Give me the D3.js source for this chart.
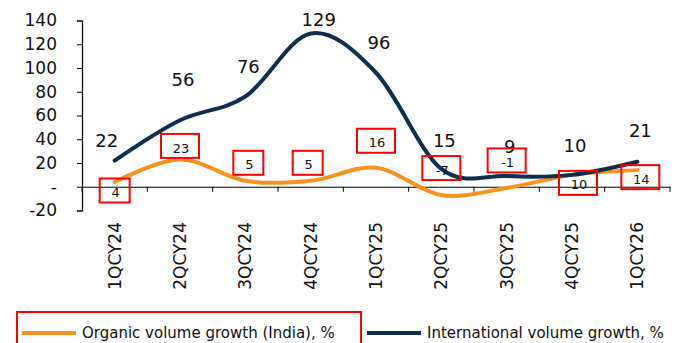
<!DOCTYPE html>
<html>
<head>
<meta charset="utf-8">
<script src="https://cdn.jsdelivr.net/npm/d3@7"></script>
<style>
body { margin: 0; background: #fff; }
text { font-family: "DejaVu Sans", Verdana, sans-serif; }
</style>
</head>
<body>
<svg id="chart"></svg>
<script>
var quarters = ['1QCY24','2QCY24','3QCY24','4QCY24','1QCY25','2QCY25','3QCY25','4QCY25','1QCY26'];
var organic = [4, 23, 5, 5, 16, -7, -1, 10, 14];
var international = [22, 56, 76, 129, 96, 15, 9, 10, 21];
var yTicks = [-20, 0, 20, 40, 60, 80, 100, 120, 140];
var seriesNames = ['Organic volume growth (India), %', 'International volume growth, %'];

// label nudges (px), as placed in the source chart
var intlDx = [-8, 3, 3, 8, 3, 3, 3, 3, 3];
var intlDy = [-20, -41, -30, -14, -30, -28, -29, -29, -31];
var orgDx = [0, 0, 3, -3, 0, 0, 0, 6, 3];
var orgDy = [8.5, -13.5, -18, -18, -27, -27, -27.5, 8, 7];

var orange = '#f7931e';
var navy = '#0f2d4c';

var svg = d3.select('#chart')
    .attr('width', 680)
    .attr('height', 343);

var x = d3.scaleBand()
    .domain(quarters)
    .range([82, 670]);

var y = d3.scaleLinear()
    .domain([-20, 140])
    .range([210.5, 20.5]);

function cx(i){ return x(quarters[i]) + x.bandwidth() / 2; }

// y axis
var yAxis = svg.append('g')
    .attr('transform', 'translate(82,0)')
    .call(d3.axisLeft(y).tickValues(yTicks).tickSize(5).tickPadding(20)
        .tickFormat(function(d){ return d === 0 ? '-' : d; }));
yAxis.selectAll('path').attr('stroke', '#000').attr('stroke-width', 1.2);
yAxis.selectAll('line').attr('stroke', '#000');
yAxis.selectAll('text')
    .attr('font-size', 17)
    .attr('fill', '#111')
    .attr('x', -25);

// x axis along zero
var xAxis = svg.append('g')
    .attr('transform', 'translate(0,' + y(0) + ')')
    .call(d3.axisBottom(x).tickSize(0).tickFormat(''));
xAxis.select('path').attr('stroke', '#000').attr('stroke-width', 1.2);

svg.append('g')
    .selectAll('line')
    .data(d3.range(quarters.length + 1))
    .enter().append('line')
    .attr('x1', function(i){ return 82 + i * x.bandwidth(); })
    .attr('x2', function(i){ return 82 + i * x.bandwidth(); })
    .attr('y1', y(0))
    .attr('y2', y(0) + 5)
    .attr('stroke', '#000');

// category labels (rotated)
svg.append('g')
    .selectAll('text')
    .data(quarters)
    .enter().append('text')
    .attr('transform', function(d, i){ return 'translate(' + (cx(i) + 6) + ',222) rotate(-90)'; })
    .attr('text-anchor', 'end')
    .attr('font-size', 17)
    .attr('fill', '#111')
    .text(function(d){ return d; });

var line = d3.line()
    .x(function(d, i){ return cx(i); })
    .y(function(d){ return y(d); })
    .curve(d3.curveCardinal.tension(0));

svg.append('path')
    .datum(organic)
    .attr('d', line)
    .attr('fill', 'none')
    .attr('stroke', orange)
    .attr('stroke-width', 4)
    .attr('stroke-linecap', 'round');

svg.append('path')
    .datum(international)
    .attr('d', line)
    .attr('fill', 'none')
    .attr('stroke', navy)
    .attr('stroke-width', 4)
    .attr('stroke-linecap', 'round');

// international labels
svg.append('g')
    .selectAll('text')
    .data(international)
    .enter().append('text')
    .attr('x', function(d, i){ return cx(i) + intlDx[i]; })
    .attr('y', function(d, i){ return y(d) + intlDy[i]; })
    .attr('dy', '0.35em')
    .attr('text-anchor', 'middle')
    .attr('font-size', 18)
    .attr('fill', '#111')
    .text(function(d){ return d; });

// organic labels in red boxes
var boxes = svg.append('g')
    .selectAll('g')
    .data(organic)
    .enter().append('g')
    .attr('transform', function(d, i){
        return 'translate(' + (cx(i) + orgDx[i]) + ',' + (y(d) + orgDy[i]) + ')';
    });

boxes.append('rect')
    .attr('x', function(d){ return String(d).length > 1 ? -19 : -15; })
    .attr('width', function(d){ return String(d).length > 1 ? 38 : 30; })
    .attr('y', -12)
    .attr('height', 24)
    .attr('fill', 'none')
    .attr('stroke', '#ff0000')
    .attr('stroke-width', 2);

boxes.append('text')
    .attr('x', 1)
    .attr('y', 2)
    .attr('dy', '0.35em')
    .attr('text-anchor', 'middle')
    .attr('font-size', 13)
    .attr('fill', '#111')
    .text(function(d){ return d; });

// legend
svg.append('rect')
    .attr('x', 17)
    .attr('y', 312)
    .attr('width', 344)
    .attr('height', 40)
    .attr('fill', 'none')
    .attr('stroke', '#ff0000')
    .attr('stroke-width', 2);

var legend = svg.append('g')
    .selectAll('g')
    .data(seriesNames)
    .enter().append('g')
    .attr('transform', function(d, i){ return 'translate(' + (i === 0 ? 22 : 367) + ',333)'; });

legend.append('line')
    .attr('x1', 0)
    .attr('x2', 54)
    .attr('stroke', function(d, i){ return i === 0 ? orange : navy; })
    .attr('stroke-width', 4);

legend.append('text')
    .attr('x', 60)
    .attr('dy', '0.35em')
    .attr('font-size', 15)
    .attr('fill', '#111')
    .text(function(d){ return d; });
</script>
</body>
</html>
